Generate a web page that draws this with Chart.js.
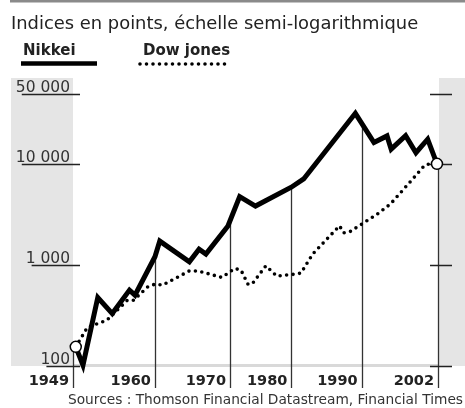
<!DOCTYPE html>
<html>
<head>
<meta charset="utf-8">
<script src="https://cdn.jsdelivr.net/npm/chart.js@4"></script>
<style>
  html, body { margin: 0; padding: 0; background: #fff; }
  #wrap { width: 465px; height: 408px; }
</style>
</head>
<body>
<div id="wrap"><canvas id="chart" width="465" height="408"></canvas></div>
<script>
// Nikkei (annual turning points)
const nikkeiYears = [1949.4, 1950.45, 1952.6, 1954.7, 1957.2, 1958.0, 1960.9, 1961.6, 1965.9, 1967.3, 1968.3,
  1971.5, 1973.2, 1975.5, 1980.7, 1982.5, 1990.0, 1992.7, 1994.6, 1995.2, 1997.3, 1998.8, 2000.5, 2001.85];
const nikkeiValues = [155, 102, 477, 331, 565, 504, 1210, 1730, 1080, 1440, 1285,
  2440, 4770, 3850, 5920, 7150, 32000, 16400, 19100, 14100, 19200, 13000, 17700, 10100];

// Dow Jones
const dowYears = [1949.4, 1951.1, 1953.9, 1956.9, 1957.8, 1959.8, 1960.9, 1962.0, 1965.9, 1967.3, 1970.6,
  1972.5, 1973.4, 1974.4, 1975.0, 1977.0, 1978.6, 1980.9, 1982.1, 1983.8, 1987.7, 1988.3, 1989.2,
  1993.2, 1995.1, 1998.2, 2000.1, 2000.8, 2001.85];
const dowValues = [155, 242, 284, 449, 449, 605, 648, 633, 877, 871, 755,
  927, 891, 648, 648, 984, 778, 809, 833, 1285, 2455, 2092, 2142,
  3209, 4036, 6982, 9838, 10070, 10070];

// axis marks
const yearMarks = [1949, 1960.9, 1971.8, 1980.7, 1990.9, 2002];
const yearLabels = ['1949', '1960', '1970', '1980', '1990', '2002'];
const yTicks = [100, 1000, 10000, 50000];
const yTickLabels = ['100', '1 000', '10 000', '50 000'];

const title = 'Indices en points, échelle semi-logarithmique';
const seriesNames = ['Nikkei', 'Dow jones'];
const source = 'Sources : Thomson Financial Datastream, Financial Times';

const FONT = '"DejaVu Sans", sans-serif';

function toPoints(xs, ys) {
  return xs.map((x, i) => ({ x: x, y: ys[i] }));
}

// y of the Nikkei line at a pixel x
function nikkeiYAt(chart, px) {
  const pts = chart.getDatasetMeta(0).data;
  if (px <= pts[0].x) return pts[0].y;
  for (let i = 1; i < pts.length; i++) {
    if (px <= pts[i].x) {
      const a = pts[i - 1], b = pts[i];
      return a.y + (b.y - a.y) * (px - a.x) / (b.x - a.x);
    }
  }
  return pts[pts.length - 1].y;
}

const decorPlugin = {
  id: 'decor',
  beforeDraw(chart) {
    const ctx = chart.ctx;
    const area = chart.chartArea;
    ctx.save();
    // top rule
    ctx.fillStyle = '#8a8a8a';
    ctx.fillRect(10, 0, 455, 2.5);
    // grey side panels
    ctx.fillStyle = '#e5e5e5';
    ctx.fillRect(11, 78, area.left - 11, area.bottom - 78);
    ctx.fillRect(439, 78, 465 - 439, area.bottom - 78);
    // baseline
    ctx.fillStyle = '#d9d9d9';
    ctx.fillRect(area.left, area.bottom - 2, 439 - area.left, 3);
    ctx.restore();
  },
  beforeDatasetsDraw(chart) {
    const ctx = chart.ctx;
    const xs = chart.scales.x;
    const ys = chart.scales.y;
    ctx.save();
    // year markers, from the Nikkei line down to the labels
    ctx.strokeStyle = '#333';
    ctx.lineWidth = 1.3;
    yearMarks.forEach(yr => {
      const px = Math.round(xs.getPixelForValue(yr)) + 0.5;
      const top = nikkeiYAt(chart, px);
      ctx.beginPath();
      ctx.moveTo(px, top);
      ctx.lineTo(px, 388);
      ctx.stroke();
    });

    // y ticks + labels
    ctx.font = '15.5px ' + FONT;
    ctx.textAlign = 'right';
    ctx.textBaseline = 'alphabetic';
    ctx.lineWidth = 1.5;
    ctx.strokeStyle = '#222';
    yTicks.forEach((v, i) => {
      const py = Math.round(ys.getPixelForValue(v)) + 0.5;
      const label = yTickLabels[i];
      const w = ctx.measureText(label).width;
      ctx.fillStyle = '#333';
      ctx.fillText(label, 70, py - 3);
      ctx.beginPath();
      ctx.moveTo(70 - w + 6, py);
      ctx.lineTo(80, py);
      ctx.moveTo(430, py);
      ctx.lineTo(452, py);
      ctx.stroke();
    });
    ctx.restore();
  },
  afterDraw(chart) {
    const ctx = chart.ctx;
    const xs = chart.scales.x;
    ctx.save();

    // title
    ctx.fillStyle = '#222';
    ctx.textBaseline = 'alphabetic';
    ctx.textAlign = 'left';
    ctx.font = '17.9px ' + FONT;
    ctx.fillText(title, 11, 29);

    // legend
    ctx.font = 'bold 15px ' + FONT;
    ctx.fillText(seriesNames[0], 23, 55);
    ctx.fillText(seriesNames[1], 143, 55);
    ctx.strokeStyle = '#000';
    ctx.lineWidth = 4.5;
    ctx.beginPath();
    ctx.moveTo(21, 63.5);
    ctx.lineTo(97, 63.5);
    ctx.stroke();
    ctx.lineWidth = 3.6;
    ctx.lineCap = 'round';
    ctx.setLineDash([0, 6.5]);
    ctx.beginPath();
    ctx.moveTo(140, 64);
    ctx.lineTo(225, 64);
    ctx.stroke();
    ctx.setLineDash([]);
    ctx.lineCap = 'butt';

    // x labels
    ctx.textAlign = 'right';
    ctx.font = 'bold 14.5px ' + FONT;
    ctx.fillStyle = '#222';
    yearMarks.forEach((yr, i) => {
      const px = xs.getPixelForValue(yr);
      ctx.fillText(yearLabels[i], px - 4, 385);
    });

    // source
    ctx.font = '13.75px ' + FONT;
    ctx.fillStyle = '#333';
    ctx.fillText(source, 463, 404);
    ctx.restore();
  }
};

const ctx = document.getElementById('chart').getContext('2d');
new Chart(ctx, {
  type: 'line',
  data: {
    datasets: [
      {
        label: seriesNames[0],
        data: toPoints(nikkeiYears, nikkeiValues),
        borderColor: '#000',
        borderWidth: 5,
        borderJoinStyle: 'miter',
        tension: 0,
        clip: false,
        pointRadius: c => (c.dataIndex === 0 || c.dataIndex === nikkeiYears.length - 1) ? 5.5 : 0,
        pointBackgroundColor: '#fff',
        pointBorderColor: '#000',
        pointBorderWidth: 1.5,
        order: 0
      },
      {
        label: seriesNames[1],
        data: toPoints(dowYears, dowValues),
        borderColor: '#000',
        borderWidth: 3.6,
        borderDash: [0, 6.5],
        borderCapStyle: 'round',
        tension: 0,
        clip: false,
        pointRadius: 0,
        order: 1
      }
    ]
  },
  options: {
    responsive: false,
    animation: false,
    layout: { padding: { left: 73, right: 27, top: 79, bottom: 42 } },
    plugins: {
      legend: { display: false },
      tooltip: { enabled: false }
    },
    scales: {
      x: { type: 'linear', min: 1949, max: 2002, display: false },
      y: { type: 'logarithmic', min: 100, max: 70000, display: false }
    }
  },
  plugins: [decorPlugin]
});
</script>
</body>
</html>
